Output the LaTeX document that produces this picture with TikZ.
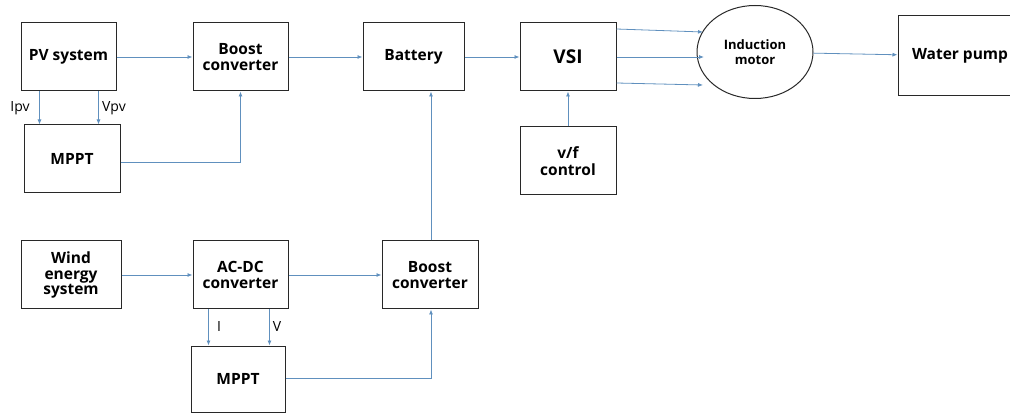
\documentclass[tikz,border=0pt]{standalone}
\usepackage{fontspec}
\setmainfont{Open Sans}
\usetikzlibrary{shapes.geometric,arrows.meta,calc}
\definecolor{ln}{RGB}{96,144,190}
\definecolor{bx}{RGB}{40,40,40}
\begin{document}
\begin{tikzpicture}[x=1pt,y=-1pt,
  blk/.style={draw=bx,line width=1pt,rectangle,minimum width=95pt,minimum height=68pt,inner sep=0pt,align=center,font=\fontsize{15.5}{16.5}\selectfont\bfseries},
  arr/.style={draw=ln,line width=0.8pt,-{Latex[length=5pt,width=4pt]}},
  lab/.style={font=\fontsize{14}{16}\selectfont,inner sep=0pt}]
\useasboundingbox (0,0) rectangle (1010,414);
\clip (0,0) rectangle (1010,414);
\node[blk] (pv) at (68.5,57) {PV system};
\node[blk] (b1) at (240.5,57) {Boost\\converter};
\node[blk,minimum width=96pt] (m1) at (72,159) {MPPT};
\node[blk,minimum width=101pt] (bat) at (413.5,57) {Battery};
\node[blk,minimum width=96pt,font=\fontsize{19}{19}\selectfont\bfseries] (vsi) at (568,57) {VSI};
\node[blk,minimum width=96pt] (vf) at (568,161) {v/f\\control};
\node[draw=bx,line width=1pt,ellipse,minimum width=116pt,minimum height=93pt,inner sep=0pt,align=center,font=\fontsize{13}{14.5}\selectfont\bfseries] (im) at (755,52) {Induction\\motor};
\node[blk,minimum width=124pt,minimum height=80pt] (wp) at (960,56) {Water pump};
\node[blk,minimum width=100pt,font=\fontsize{15.5}{15.5}\selectfont\bfseries] (we) at (71,275) {Wind\\energy\\system};
\node[blk] (ac) at (240.5,275) {AC-DC\\converter};
\node[blk,minimum width=94pt,minimum height=66pt] (m2) at (238,379) {MPPT};
\node[blk,minimum width=96pt] (b2) at (430,275) {Boost\\converter};
% top row
\draw[arr] (pv) -- (b1);
\draw[arr] (b1) -- (bat);
\draw[arr] (bat) -- (vsi);
\draw[arr] (im) -- (wp);
% PV -> MPPT
\draw[arr] ([xshift=19pt]pv.south west) -- ([xshift=19pt]pv.south west |- m1.north);
\draw[arr] ([xshift=-18pt]pv.south east) -- ([xshift=-18pt]pv.south east |- m1.north);
\node[lab] (ipv) at (20,108) {Ipv};
\node[lab] (vpv) at (114,108) {Vpv};
\draw[arr] (m1.east |- 0,162) -| (b1.south);
% VSI -> motor
\coordinate (t1) at (703,32);
\coordinate (t2) at (704,57);
\coordinate (t3) at (703,85);
\draw[arr] (vsi.east |- 0,29) -- (t1);
\draw[arr] (vsi.east |- 0,57) -- (t2);
\draw[arr] (vsi.east |- 0,83) -- (t3);
\draw[arr] (vf) -- (vsi);
% wind row
\draw[arr] (we) -- (ac);
\draw[arr] (ac) -- (b2);
\draw[arr] (b2.north -| 431,0) -- (bat.south -| 431,0);
\draw[arr] ([xshift=16pt]ac.south west) -- ([xshift=16pt]ac.south west |- m2.north);
\draw[arr] ([xshift=-19pt]ac.south east) -- ([xshift=-19pt]ac.south east |- m2.north);
\node[lab] (li) at (219,327) {I};
\node[lab] (lv) at (277,327) {V};
\draw[arr] (m2.east |- 0,378) -| (b2.south -| 431,0);
\end{tikzpicture}
\end{document}
